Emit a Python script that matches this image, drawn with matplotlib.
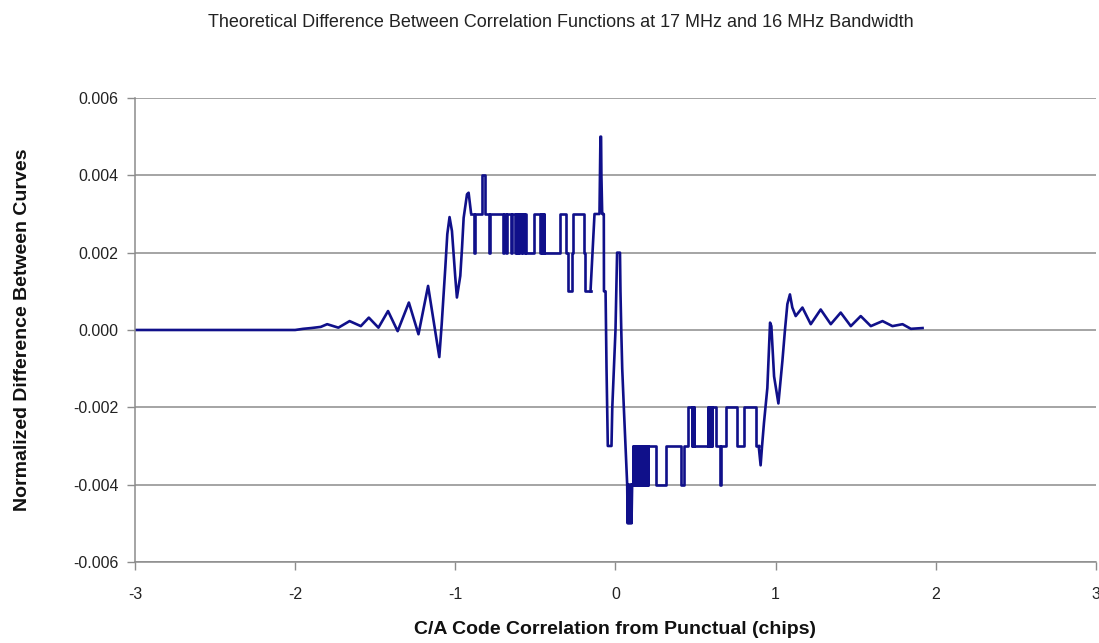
import matplotlib
matplotlib.use("Agg")
import matplotlib.pyplot as plt
import numpy as np

# Difference between the 17 MHz and 16 MHz correlation functions, in units of 1e-3.
# Smooth parts are polylines; quantized parts are (start x, level) steps.

left_x = [-3.0, -2.0, -1.95, -1.90, -1.84, -1.80, -1.73, -1.66, -1.59, -1.54, -1.48,
          -1.42, -1.36, -1.29, -1.23, -1.17, -1.10, -1.085, -1.0625, -1.050, -1.036,
          -1.021, -1.000, -0.990, -0.969, -0.958, -0.948, -0.927, -0.917, -0.902]
left_y = [0.0, 0.0, 0.03, 0.05, 0.08, 0.15, 0.06, 0.23, 0.10, 0.32, 0.06,
          0.49, -0.03, 0.71, -0.11, 1.14, -0.70, 0.15, 1.61, 2.48, 2.92,
          2.56, 1.35, 0.84, 1.40, 2.13, 2.90, 3.51, 3.55, 3.03]

step1_x = [-0.902, -0.881, -0.877, -0.834, -0.815, -0.790, -0.786, -0.700, -0.694,
           -0.684, -0.677, -0.650, -0.644, -0.628, -0.622, -0.614, -0.609, -0.600,
           -0.595, -0.586, -0.581, -0.572, -0.566, -0.560, -0.510, -0.469, -0.465,
           -0.461, -0.457, -0.453, -0.449, -0.445, -0.344, -0.312, -0.302, -0.298,
           -0.273, -0.268, -0.198, -0.192, -0.156]
step1_y = [3, 2, 3, 4, 3, 2, 3, 2, 3,
           2, 3, 2, 3, 2, 3, 2, 3, 2,
           3, 2, 3, 2, 3, 2, 3, 2, 3,
           2, 3, 2, 3, 2, 3, 2, 2, 1,
           2, 3, 2, 1, 1]

center_x = [-0.156, -0.131, -0.100, -0.097, -0.094, -0.090, -0.088, -0.083, -0.073,
            -0.072, -0.062, -0.056, -0.048, -0.025, -0.020, -0.010, 0.000, 0.010,
            0.028, 0.031, 0.036, 0.042, 0.052, 0.0625, 0.073, 0.076, 0.080, 0.084,
            0.088, 0.092, 0.096, 0.100, 0.104]
center_y = [1.0, 3.0, 3.0, 4.0, 5.0, 5.0, 4.0, 3.0, 3.0,
            1.0, 1.0, -1.0, -3.0, -3.0, -2.0, -1.0, 0.0, 2.0,
            2.0, 1.0, 0.0, -1.0, -2.0, -3.0, -4.0, -5.0, -4.0, -5.0,
            -4.0, -5.0, -4.0, -5.0, -4.0]

step2_x = [0.104, 0.108, 0.112, 0.116, 0.121, 0.125, 0.130, 0.134, 0.139, 0.144,
           0.148, 0.153, 0.158, 0.163, 0.168, 0.173, 0.178, 0.184, 0.190, 0.196,
           0.200, 0.206, 0.250, 0.3125, 0.406, 0.427, 0.450, 0.475, 0.479, 0.484,
           0.488, 0.492, 0.575, 0.580, 0.585, 0.590, 0.595, 0.600, 0.605, 0.625,
           0.655, 0.659, 0.6875, 0.760, 0.800, 0.875, 0.894]
step2_y = [-4, -3, -4, -3, -4, -3, -4, -3, -4, -3,
           -4, -3, -4, -3, -4, -3, -4, -3, -4, -3,
           -4, -3, -4, -3, -4, -3, -2, -3, -2, -3,
           -2, -3, -2, -3, -2, -3, -2, -3, -2, -3,
           -4, -3, -2, -3, -2, -3, -3]

right_x = [0.894, 0.906, 0.915, 0.927, 0.948, 0.965, 0.973, 0.990, 1.017, 1.042,
           1.058, 1.073, 1.089, 1.104, 1.125, 1.167, 1.219, 1.281, 1.344, 1.406,
           1.469, 1.531, 1.594, 1.667, 1.729, 1.792, 1.844, 1.917]
right_y = [-3.0, -3.5, -3.0, -2.4, -1.5, 0.19, 0.10, -1.2, -1.9, -0.8,
           0.0, 0.67, 0.92, 0.58, 0.36, 0.58, 0.15, 0.53, 0.15, 0.45,
           0.10, 0.36, 0.10, 0.23, 0.10, 0.15, 0.03, 0.05]

title = "Theoretical Difference Between Correlation Functions at 17 MHz and 16 MHz Bandwidth"
x_label = "C/A Code Correlation from Punctual (chips)"
y_label = "Normalized Difference Between Curves"
x_ticks = [-3, -2, -1, 0, 1, 2, 3]
y_ticks = [-0.006, -0.004, -0.002, 0.000, 0.002, 0.004, 0.006]

plt.rcParams['font.family'] = ['Liberation Sans', 'DejaVu Sans']

fig = plt.figure(figsize=(10.99, 6.43), dpi=100)
ax = fig.add_axes([0.1228, 0.126, 0.8745, 0.7216])

line_color = "#10108a"
lw = 1.9
scale = 1e-3
ax.plot(left_x, np.array(left_y) * scale, color=line_color, lw=lw, solid_joinstyle="round")
ax.plot(step1_x, np.array(step1_y) * scale, color=line_color, lw=lw, drawstyle="steps-post")
ax.plot(center_x, np.array(center_y) * scale, color=line_color, lw=lw, solid_joinstyle="round")
ax.plot(step2_x, np.array(step2_y) * scale, color=line_color, lw=lw, drawstyle="steps-post")
ax.plot(right_x, np.array(right_y) * scale, color=line_color, lw=lw, solid_joinstyle="round")

ax.set_xlim(-3, 3)
ax.set_ylim(-0.006, 0.006)
ax.set_xticks(x_ticks)
ax.set_yticks(y_ticks)
ax.set_yticklabels([f"{v:.3f}".replace("-0.000", "0.000") for v in y_ticks])
ax.set_xticklabels([str(v) for v in x_ticks])

ax.yaxis.grid(True, color="#8c8c8c", lw=1.1)
ax.set_axisbelow(True)
for side in ("top", "right"):
    ax.spines[side].set_visible(False)
for side in ("left", "bottom"):
    ax.spines[side].set_color("#8c8c8c")
    ax.spines[side].set_linewidth(1.1)

ax.tick_params(axis="both", colors="#8c8c8c", labelcolor="#222222", labelsize=11.5,
               length=6, width=1.0)
ax.tick_params(axis="x", pad=12)
ax.tick_params(axis="y", pad=6)

ax.set_xlabel(x_label, fontsize=14, fontweight="bold", labelpad=14, color="#111111")
ax.set_ylabel(y_label, fontsize=14, fontweight="bold", labelpad=30, color="#111111")
fig.text(0.51, 0.965, title, ha="center", va="center", fontsize=13, color="#222222")

fig.savefig("out.png", dpi=100)
